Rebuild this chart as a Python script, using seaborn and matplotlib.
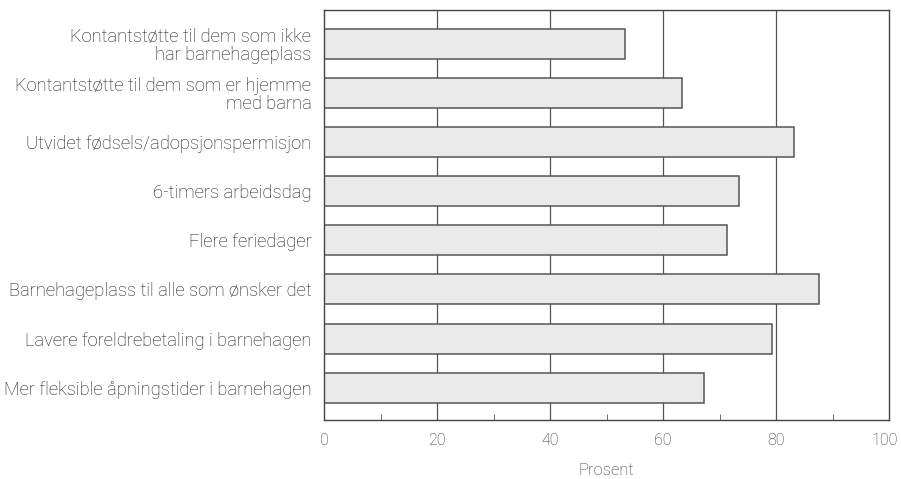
import pandas as pd
import matplotlib.pyplot as plt
import matplotlib.transforms as mtransforms
import seaborn as sns
from matplotlib.ticker import MultipleLocator

# Tiltak og andel (prosent)
tiltak = [
    "Kontantstøtte til dem som ikke\nhar barnehageplass",
    "Kontantstøtte til dem som er hjemme\nmed barna",
    "Utvidet fødsels/adopsjonspermisjon",
    "6-timers arbeidsdag",
    "Flere feriedager",
    "Barnehageplass til alle som ønsker det",
    "Lavere foreldrebetaling i barnehagen",
    "Mer fleksible åpningstider i barnehagen",
]
prosent = [53.3, 63.3, 83.2, 73.5, 71.3, 87.6, 79.3, 67.3]
x_ticks = [0, 20, 40, 60, 80, 100]

df = pd.DataFrame({"Tiltak": tiltak, "Prosent": prosent})

sns.set_style("white")
plt.rcParams["font.family"] = ["Roboto", "DejaVu Sans"]
plt.rcParams["font.weight"] = "light"

fig = plt.figure(figsize=(9.01, 4.79), dpi=100)
ax = fig.add_axes([0.3596, 0.123, 0.6271, 0.856])

ax.grid(False)
for v in x_ticks[1:-1]:
    ax.axvline(v, color="#555555", lw=0.9, zorder=0)

sns.barplot(data=df, x="Prosent", y="Tiltak", orient="h", color="#eaeaea",
            edgecolor="#555555", linewidth=1.1, width=0.61, saturation=1, ax=ax, zorder=2)

ax.set_xlim(0, 100)
ax.set_ylim(7.66, -0.69)
ax.set_xticks(x_ticks)
ax.xaxis.set_minor_locator(MultipleLocator(10))
ax.tick_params(axis="x", which="major", length=0, pad=9, labelsize=11.5, labelcolor="#333333")
ax.tick_params(axis="x", which="minor", direction="in", length=4, color="#555555", bottom=True)
ax.tick_params(axis="y", length=0, pad=9, labelsize=13.2, labelcolor="#1a1a1a")
for t in ax.get_yticklabels():
    t.set_multialignment("right")
    t.set_linespacing(1.0)
    t.set_fontweight("light")
for t in ax.get_xticklabels():
    t.set_fontweight("light")

# "100" litt inn så den ikke kuttes i kanten
last = ax.get_xticklabels()[-1]
last.set_transform(last.get_transform() + mtransforms.ScaledTranslation(-3 / 72, 0, fig.dpi_scale_trans))

ax.set_xlabel("Prosent", fontsize=12, color="#333333", labelpad=11, fontweight="light")
ax.set_ylabel("")
for s in ax.spines.values():
    s.set_visible(True)
    s.set_color("#444444")
    s.set_linewidth(1.0)

fig.savefig("out.png", dpi=100)
